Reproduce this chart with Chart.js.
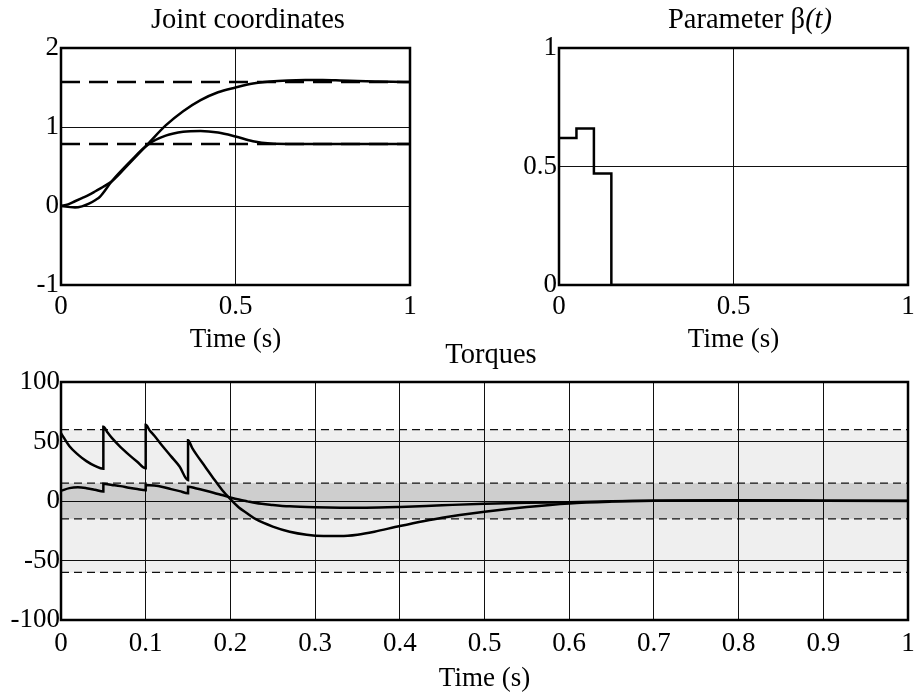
<!DOCTYPE html>
<html>
<head>
<meta charset="utf-8">
<script src="https://cdn.jsdelivr.net/npm/chart.js@4.4.1/dist/chart.umd.min.js"></script>
<style>
  body { margin: 0; background: #fff; }
  #wrap { position: relative; width: 917px; height: 696px; font-family: "Liberation Serif", "Times New Roman", serif; }
  canvas { position: absolute; }
  .title { position: absolute; width: 240px; text-align: center; font-size: 28.5px; line-height: 32px; color: #000; white-space: nowrap; }
</style>
</head>
<body>
<div id="wrap">
  <canvas id="jointChart" width="460" height="360" style="left:0;top:0"></canvas>
  <canvas id="betaChart" width="457" height="360" style="left:460px;top:0"></canvas>
  <canvas id="torqueChart" width="917" height="336" style="left:0;top:360px"></canvas>
  <div class="title" style="left:128px;top:3px">Joint coordinates</div>
  <div class="title" style="left:630px;top:3px">Parameter β<i>(t)</i></div>
  <div class="title" style="left:371px;top:338px">Torques</div>
</div>
<script>
// ===== joint coordinates =====
const q1Time = [0, 0.02, 0.04, 0.06, 0.08, 0.1, 0.12, 0.145, 0.2, 0.25, 0.3, 0.35, 0.4, 0.45, 0.5, 0.55, 0.6, 0.65, 0.7, 0.75, 0.8, 0.85, 0.9, 0.95, 1];
const q1 = [0, 0.02, 0.06, 0.1, 0.14, 0.19, 0.24, 0.31, 0.56, 0.79, 1.02, 1.2, 1.34, 1.44, 1.5, 1.55, 1.575, 1.588, 1.594, 1.595, 1.59, 1.583, 1.577, 1.572, 1.57];
const q2Time = [0, 0.02, 0.04, 0.06, 0.08, 0.1, 0.112, 0.145, 0.2, 0.25, 0.3, 0.35, 0.4, 0.45, 0.5, 0.55, 0.6, 0.65, 1];
const q2 = [0, -0.01, -0.02, -0.005, 0.03, 0.08, 0.12, 0.31, 0.57, 0.78, 0.89, 0.94, 0.95, 0.93, 0.88, 0.82, 0.79, 0.785, 0.785];
const qTargets = [1.571, 0.785];
const jointXTicks = [0, 0.5, 1];
const jointYTicks = [-1, 0, 1, 2];

// ===== parameter beta =====
const betaTime = [0, 0.05, 0.1, 0.15, 1];
const beta = [0.62, 0.66, 0.47, 0, 0];
const betaXTicks = [0, 0.5, 1];
const betaYTicks = [0, 0.5, 1];

// ===== torques =====
const tau1Time = [0, 0.01, 0.02, 0.03, 0.04, 0.05, 0.05, 0.055, 0.06, 0.07, 0.08, 0.09, 0.1, 0.1, 0.105, 0.11, 0.12, 0.13, 0.14, 0.15, 0.15,
  0.155, 0.16, 0.17, 0.18, 0.19, 0.2, 0.21, 0.22, 0.23, 0.25, 0.27, 0.29, 0.31, 0.33, 0.35, 0.37, 0.4, 0.45, 0.5, 0.55, 0.6, 0.65, 0.7, 0.8, 0.9, 1];
const tau1 = [57, 46, 39, 33.5, 29.5, 27, 62.5, 57.5, 53, 45.5, 39, 33, 27.5, 64, 59, 55, 46, 37.5, 29, 17.5, 51,
  44.5, 39, 29, 19, 9.5, 1.5, -5.5, -10.5, -15.3, -21.5, -25.8, -28.3, -29.4, -29.5, -28.3, -25.8, -21, -14, -9, -5, -2, -0.5, 0.3, 0.6, 0.3, 0];
const tau2Time = [0, 0.01, 0.02, 0.03, 0.04, 0.05, 0.05, 0.06, 0.07, 0.08, 0.09, 0.1, 0.1, 0.11, 0.12, 0.13, 0.14, 0.15, 0.15,
  0.16, 0.17, 0.18, 0.19, 0.2, 0.21, 0.22, 0.23, 0.25, 0.27, 0.3, 0.33, 0.36, 0.4, 0.45, 0.5, 0.55, 0.6, 0.65, 0.7, 0.8, 0.9, 1];
const tau2 = [8.5, 10.8, 11.5, 10.8, 9.5, 8, 14.5, 13.5, 12.5, 11.2, 10, 9, 13.5, 13, 11.8, 10, 8.3, 6.5, 12,
  10.5, 8.8, 7, 5, 3, 1.2, -0.3, -1.7, -3.3, -4.5, -5.3, -5.6, -5.6, -5, -3.6, -2.3, -1.5, -1, -0.3, 0.2, 0.5, 0.3, 0.2];
const outerLimit = 60;
const innerLimit = 15;
const torqueXTicks = [0, 0.1, 0.2, 0.3, 0.4, 0.5, 0.6, 0.7, 0.8, 0.9, 1];
const torqueYTicks = [-100, -50, 0, 50, 100];

const FONT = { family: "'Liberation Serif', 'Times New Roman', serif", size: 27 };

function pts(xs, ys) {
    return xs.map((x, i) => ({ x: x, y: ys[i] }));
}

function curve(xs, ys) {
    return {
        data: pts(xs, ys),
        borderColor: "#000",
        borderWidth: 2.5,
        pointRadius: 0,
        fill: false,
        cubicInterpolationMode: "monotone",
    };
}

function flatLine(value, style) {
    return Object.assign({
        data: pts([0, 1], [value, value]),
        borderColor: "#000",
        pointRadius: 0,
        fill: false,
    }, style);
}

// gap between axis and labels comes from an invisible tick mark (o.gap),
// so the label padding does not eat into the plot width
function axis(ticks, o) {
    return {
        type: "linear",
        min: ticks[0],
        max: ticks[ticks.length - 1],
        afterBuildTicks: (s) => { s.ticks = ticks.map((v) => ({ value: v })); },
        afterFit: (s) => {
            if (o.width) s.width = o.width;
            if (o.height) s.height = o.height;
        },
        grid: { color: "#111", lineWidth: 1, drawTicks: true, tickLength: o.gap, tickColor: "rgba(0,0,0,0)" },
        border: { display: false },
        ticks: {
            color: "#000",
            font: FONT,
            padding: 0,
            maxRotation: 0,
            autoSkip: false,
            callback: (v) => String(v),
        },
        title: o.title
            ? { display: true, text: o.title, color: "#000", font: FONT, padding: { top: 0, bottom: o.titlePad } }
            : { display: false },
    };
}

function options(padding, x, y) {
    return {
        responsive: false,
        animation: false,
        devicePixelRatio: 1,
        events: [],
        layout: { padding: padding },
        plugins: { legend: { display: false }, title: { display: false }, tooltip: { enabled: false } },
        scales: { x: x, y: y },
    };
}

// thick box round the plot area
const frame = {
    id: "frame",
    afterDatasetsDraw(chart) {
        const a = chart.chartArea;
        const ctx = chart.ctx;
        ctx.save();
        ctx.lineWidth = 2.5;
        ctx.strokeStyle = "#000";
        ctx.strokeRect(a.left, a.top, a.right - a.left, a.bottom - a.top);
        ctx.restore();
    },
};

new Chart(document.getElementById("jointChart"), {
    type: "line",
    data: {
        datasets: [
            curve(q1Time, q1),
            curve(q2Time, q2),
            flatLine(qTargets[0], { borderWidth: 2.5, borderDash: [19, 9] }),
            flatLine(qTargets[1], { borderWidth: 2.5, borderDash: [19, 9] }),
        ],
    },
    options: options(
        { top: 48, right: 50, bottom: 0, left: 0 },
        axis(jointXTicks, { height: 75, gap: 6, title: "Time (s)", titlePad: 4 }),
        axis(jointYTicks, { width: 61, gap: 2 }),
    ),
    plugins: [frame],
});

new Chart(document.getElementById("betaChart"), {
    type: "line",
    data: {
        datasets: [{
            data: pts(betaTime, beta),
            borderColor: "#000",
            borderWidth: 2.5,
            pointRadius: 0,
            fill: false,
            stepped: "before",
        }],
    },
    options: options(
        { top: 48, right: 9, bottom: 0, left: 0 },
        axis(betaXTicks, { height: 75, gap: 6, title: "Time (s)", titlePad: 4 }),
        axis(betaYTicks, { width: 99, gap: 2 }),
    ),
    plugins: [frame],
});

const bandLine = { borderColor: "#111", borderWidth: 1.4, borderDash: [8, 5] };

new Chart(document.getElementById("torqueChart"), {
    type: "line",
    data: {
        datasets: [
            curve(tau1Time, tau1),
            curve(tau2Time, tau2),
            flatLine(innerLimit, Object.assign({ fill: { value: -innerLimit }, backgroundColor: "rgba(0,0,0,0.142)" }, bandLine)),
            flatLine(-innerLimit, bandLine),
            flatLine(outerLimit, Object.assign({ fill: { value: -outerLimit }, backgroundColor: "rgba(0,0,0,0.063)" }, bandLine)),
            flatLine(-outerLimit, bandLine),
        ],
    },
    options: options(
        { top: 22, right: 9, bottom: 0, left: 0 },
        axis(torqueXTicks, { height: 76, gap: 8, title: "Time (s)", titlePad: 1 }),
        axis(torqueYTicks, { width: 61, gap: 1 }),
    ),
    plugins: [frame],
});
</script>
</body>
</html>
